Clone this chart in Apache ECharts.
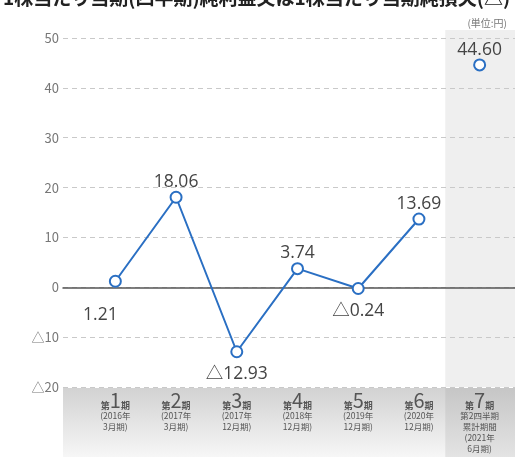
<!DOCTYPE html>
<html><head><meta charset="utf-8">
<script src="https://cdn.jsdelivr.net/npm/echarts@6/dist/echarts.min.js"></script>
<style>html,body{margin:0;padding:0;background:#fff}#c{width:515px;height:457px}</style>
</head><body><div id="c"></div>
<script>
const chartTitle = '1株当たり当期(四半期)純利益又は1株当たり当期純損失(△)';
const unitLabel = '(単位:円)';
const categories = ['第1期','第2期','第3期','第4期','第5期','第6期','第7期'];
const periodNums = ['1','2','3','4','5','6','7'];
const periodSubs = [
  ['(2016年','3月期)'],
  ['(2017年','3月期)'],
  ['(2017年','12月期)'],
  ['(2018年','12月期)'],
  ['(2019年','12月期)'],
  ['(2020年','12月期)'],
  ['第2四半期','累計期間','(2021年','6月期)']
];
const values = [1.21, 18.06, -12.93, 3.74, -0.24, 13.69, 44.60];
const labelPos = ['bottom','top','bottom','top','bottom','top','top'];
const yMin = -20, yMax = 50, yStep = 10;
const separateIndex = 6; // 第7期 is not joined to the line

const fmtVal = v => v < 0 ? '△' + Math.abs(v).toFixed(2) : v.toFixed(2);
const fmtTick = v => v < 0 ? '△' + Math.abs(v) : String(v);

const blue = '#2a6fc3';
const mainData = values.map((v,i) => i < separateIndex ? v : null);
const sepData = values.map((v,i) => i >= separateIndex ? v : null);

function labelFor(i){
  const pos = labelPos[i];
  const l = {show:true, position:pos, distance: pos==='top'?0:7,
    formatter: p => fmtVal(p.value), color:'#444', fontSize:17.5,
    fontFamily:'Open Sans, Noto Sans CJK JP, sans-serif'};
  if (i === 0) { l.offset = [-15, 12]; }
  return l;
}
const mkData = arr => arr.map((v,i) => v === null ? null : {value:v, label: labelFor(i)});

const chart = echarts.init(document.getElementById('c'));
chart.setOption({
  animation:false,
  textStyle:{fontFamily:'Noto Sans CJK JP, sans-serif'},
  title:[
    {text: chartTitle, left:-2, top:-17, textStyle:{fontSize:19, fontWeight:'bold', color:'#222', fontFamily:'Noto Sans CJK JP'}},
    {text: unitLabel, right:3, top:13, textStyle:{fontSize:10, fontWeight:'normal', color:'#777', fontFamily:'Noto Sans CJK JP'}}
  ],
  grid:[
    {left:63, right:0, top:38, bottom:70},
    {left:85, right:5, top:38, bottom:70}
  ],
  xAxis:[
    {type:'value', gridIndex:0, min:0, max:1, axisLabel:{show:false}, splitLine:{show:false}, axisTick:{show:false},
      axisLine:{show:true, onZero:true, lineStyle:{color:'#555', width:1.5}}},
    {type:'category', gridIndex:1, data:categories, boundaryGap:true,
      axisLine:{show:false}, axisTick:{show:false},
      axisLabel:{interval:0, margin:4, verticalAlign:'top', color:'#555',
        formatter:(v,i) => '{s|第}{n|' + periodNums[i] + '}{s|期}\n' + periodSubs[i].map(t => '{p|' + t + '}').join('\n'),
        rich:{
          s:{fontSize:9, color:'#555', fontWeight:'bold', verticalAlign:'bottom', lineHeight:19},
          n:{fontSize:20, color:'#555', lineHeight:19},
          p:{fontSize:8.5, color:'#555', lineHeight:11}
        }}}
  ],
  yAxis:[
    {type:'value', gridIndex:0, min:yMin, max:yMax, interval:yStep,
      axisLine:{show:false}, axisTick:{show:false},
      axisLabel:{formatter:fmtTick, color:'#777', fontSize:13, margin:4},
      splitLine:{show:true, lineStyle:{color:'#c9c9c9', type:[5,4], width:1}}},
    {type:'value', gridIndex:1, min:yMin, max:yMax, interval:yStep, show:false}
  ],
  series:[
    {type:'line', xAxisIndex:1, yAxisIndex:1, data:mkData(mainData), connectNulls:false,
      symbol:'circle', symbolSize:11, showAllSymbol:true,
      lineStyle:{color:blue, width:2}, itemStyle:{color:'#fff', borderColor:blue, borderWidth:2}, z:5},
    {type:'line', xAxisIndex:1, yAxisIndex:1, data:mkData(sepData), connectNulls:false,
      symbol:'circle', symbolSize:11, showAllSymbol:true,
      lineStyle:{color:blue, width:2}, itemStyle:{color:'#fff', borderColor:blue, borderWidth:2}, z:5}
  ]
});

// background decorations positioned through the axes
const H = 457, W = 515;
const c0 = chart.convertToPixel({xAxisIndex:1}, categories[0]);
const c1 = chart.convertToPixel({xAxisIndex:1}, categories[1]);
const cLast = chart.convertToPixel({xAxisIndex:1}, categories[categories.length-1]);
const band = c1 - c0;
const yBottom = chart.convertToPixel({yAxisIndex:0}, yMin);
const xLeft = chart.convertToPixel({xAxisIndex:0}, 0);
const lastLeft = cLast - band/2 - 4;
chart.setOption({graphic:[
  {type:'rect', z:-20, silent:true, shape:{x:lastLeft, y:30, width:W-lastLeft, height:yBottom-30}, style:{fill:'#efefef'}},
  {type:'rect', z:-19, silent:true, shape:{x:xLeft, y:yBottom+1, width:W-xLeft, height:H-yBottom},
    style:{fill:new echarts.graphic.LinearGradient(0,0,0,1,[{offset:0,color:'#d2d2d2'},{offset:1,color:'#f7f7f7'}])}},
  {type:'rect', z:-18, silent:true, shape:{x:lastLeft, y:yBottom+1, width:W-lastLeft, height:H-yBottom},
    style:{fill:new echarts.graphic.LinearGradient(0,0,0,1,[{offset:0,color:'#c6c6c6'},{offset:1,color:'#e4e4e4'}])}}
]});
</script></body></html>
